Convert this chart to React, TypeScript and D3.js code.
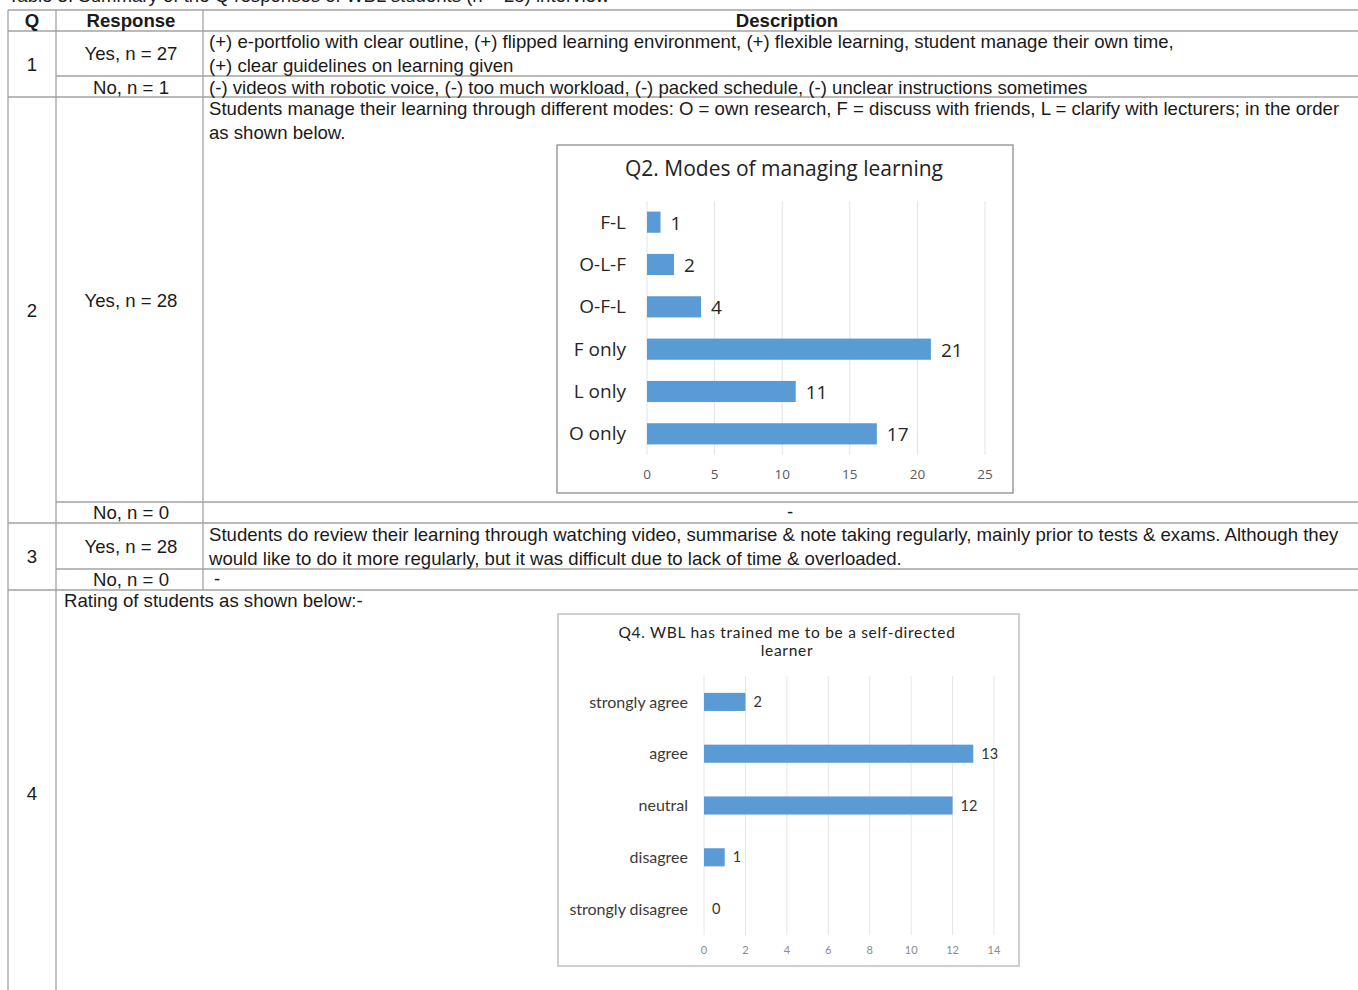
import * as d3 from "d3";
import React from "react";

// Q2 chart data
const q2Categories = ["F-L", "O-L-F", "O-F-L", "F only", "L only", "O only"];
const q2Values = [1, 2, 4, 21, 11, 17];
const q2Ticks = [0, 5, 10, 15, 20, 25];

// Q4 chart data
const q4Categories = ["strongly agree", "agree", "neutral", "disagree", "strongly disagree"];
const q4Values = [2, 13, 12, 1, 0];
const q4Ticks = [0, 2, 4, 6, 8, 10, 12, 14];

// table text
const headers = ["Q", "Response", "Description"];
const q1Yes = [
  "(+) e-portfolio with clear outline, (+) flipped learning environment, (+) flexible learning, student manage their own time,",
  "(+) clear guidelines on learning given",
];
const q1No = "(-) videos with robotic voice, (-) too much workload, (-) packed schedule, (-) unclear instructions sometimes";
const q2Desc = [
  "Students manage their learning through different modes: O = own research, F = discuss with friends, L = clarify with lecturers; in the order",
  "as shown below.",
];
const q3Desc = [
  "Students do review their learning through watching video, summarise & note taking regularly, mainly prior to tests & exams. Although they",
  "would like to do it more regularly, but it was difficult due to lack of time & overloaded.",
];

const App = () => {
  const ref = React.useRef<SVGSVGElement | null>(null);
  const width = 1358;
  const height = 990;
  const lineColor = "#a3a3a3";
  const textColor = "#1a1a1a";
  const font = "'Liberation Sans', Arial, sans-serif";
  const fs = 18.6;
  const barColor = "#5B9BD5";
  const c1Font = "'Open Sans', sans-serif";
  const c2Font = "Lato, sans-serif";

  const draw = (el: SVGSVGElement) => {
    const svg = d3.select(el);
    svg.selectAll("*").remove();
    svg.append("rect").attr("width", width).attr("height", height).attr("fill", "#fff");

    // caption, cut at the top like in the source
    svg
      .append("text")
      .attr("x", 8)
      .attr("y", 2)
      .attr("font-family", font)
      .attr("font-size", fs)
      .attr("fill", textColor)
      .text("Table 3. Summary of the Q responses of WBL students (n = 28) interview");

    // table grid
    const g = svg.append("g").attr("stroke", lineColor).attr("stroke-width", 1.3);
    const hLines: [number, number][] = [
      [10, 8], [31, 8], [76, 56], [97, 8], [502, 56], [523, 8], [569, 56], [590, 8],
    ];
    hLines.forEach(([y, x0]) => {
      g.append("line").attr("x1", x0).attr("x2", width).attr("y1", y).attr("y2", y);
    });
    g.append("line").attr("x1", 8).attr("x2", 8).attr("y1", 10).attr("y2", height);
    g.append("line").attr("x1", 56).attr("x2", 56).attr("y1", 10).attr("y2", height);
    g.append("line").attr("x1", 203).attr("x2", 203).attr("y1", 10).attr("y2", 590);

    const txt = (x: number, y: number, s: string, anchor = "start", bold = false) =>
      svg
        .append("text")
        .attr("x", x)
        .attr("y", y)
        .attr("text-anchor", anchor)
        .attr("font-family", font)
        .attr("font-size", fs)
        .attr("font-weight", bold ? "bold" : "normal")
        .attr("fill", textColor)
        .text(s);

    txt(32, 27, headers[0], "middle", true);
    txt(131, 27, headers[1], "middle", true);
    txt(787, 27, headers[2], "middle", true);

    txt(32, 71, "1", "middle");
    txt(131, 60, "Yes, n = 27", "middle");
    txt(131, 94, "No, n = 1", "middle");
    txt(209, 48, q1Yes[0]);
    txt(209, 72, q1Yes[1]);
    txt(209, 94, q1No);

    txt(32, 317, "2", "middle");
    txt(131, 307, "Yes, n = 28", "middle");
    txt(209, 115, q2Desc[0]);
    txt(209, 139, q2Desc[1]);
    txt(131, 519, "No, n = 0", "middle");
    txt(790, 518, "-", "middle");

    txt(32, 563, "3", "middle");
    txt(131, 553, "Yes, n = 28", "middle");
    txt(209, 541, q3Desc[0]);
    txt(209, 565, q3Desc[1]);
    txt(131, 586, "No, n = 0", "middle");
    txt(214, 585, "-");

    txt(32, 800, "4", "middle");
    txt(64, 607, "Rating of students as shown below:-");

    // ---- Q2 chart ----
    const c1 = svg.append("g");
    c1.append("rect")
      .attr("x", 557).attr("y", 145).attr("width", 456).attr("height", 348)
      .attr("fill", "#fff").attr("stroke", "#8c8c8c").attr("stroke-width", 1.3);
    c1.append("text")
      .attr("x", 784).attr("y", 176).attr("text-anchor", "middle")
      .attr("font-family", c1Font).attr("font-size", 21)
      .attr("fill", "#222").text("Q2. Modes of managing  learning");

    const x1 = d3.scaleLinear().domain([0, 25]).range([647, 985]);
    const y1 = d3.scaleBand<string>().domain(q2Categories).range([201, 455])
      .paddingInner(0.5).paddingOuter(0.25);

    c1.append("g").selectAll("line").data(q2Ticks).join("line")
      .attr("x1", (d) => x1(d)).attr("x2", (d) => x1(d))
      .attr("y1", 201).attr("y2", 455)
      .attr("stroke", "#e3e3e3").attr("stroke-width", 1);
    c1.append("g").selectAll("text").data(q2Ticks).join("text")
      .attr("x", (d) => x1(d)).attr("y", 479).attr("text-anchor", "middle")
      .attr("font-family", c1Font).attr("font-size", 13.5)
      .attr("fill", "#595959").text((d) => d);

    const d1 = q2Categories.map((c, i) => ({ c, v: q2Values[i] }));
    c1.append("g").selectAll("rect").data(d1).join("rect")
      .attr("x", x1(0)).attr("y", (d) => y1(d.c)!)
      .attr("width", (d) => x1(d.v) - x1(0)).attr("height", y1.bandwidth())
      .attr("fill", barColor);
    c1.append("g").selectAll("text").data(d1).join("text")
      .attr("x", 626).attr("y", (d) => y1(d.c)! + y1.bandwidth() / 2)
      .attr("dy", "0.35em").attr("text-anchor", "end")
      .attr("font-family", c1Font).attr("font-size", 19)
      .attr("fill", "#262626").text((d) => d.c);
    c1.append("g").selectAll("text").data(d1).join("text")
      .attr("x", (d) => x1(d.v) + 10).attr("y", (d) => y1(d.c)! + y1.bandwidth() / 2)
      .attr("dy", "0.4em")
      .attr("font-family", c1Font).attr("font-size", 19)
      .attr("fill", "#262626").text((d) => d.v);

    // ---- Q4 chart ----
    const c2 = svg.append("g");
    c2.append("rect")
      .attr("x", 558).attr("y", 614).attr("width", 461).attr("height", 352)
      .attr("fill", "#fff").attr("stroke", "#cfcfcf").attr("stroke-width", 2);
    const t2 = c2.append("text").attr("text-anchor", "middle")
      .attr("font-family", c2Font).attr("font-size", 15.5)
      .attr("letter-spacing", 0.7).attr("fill", "#222");
    t2.append("tspan").attr("x", 787).attr("y", 638).text("Q4. WBL has trained me to be a self-directed");
    t2.append("tspan").attr("x", 787).attr("y", 656).text("learner");

    const x2 = d3.scaleLinear().domain([0, 14]).range([704, 994]);
    const y2 = d3.scaleBand<string>().domain(q4Categories).range([676, 935])
      .paddingInner(0.65).paddingOuter(0.325);

    c2.append("g").selectAll("line").data(q4Ticks).join("line")
      .attr("x1", (d) => x2(d)).attr("x2", (d) => x2(d))
      .attr("y1", 676).attr("y2", 935)
      .attr("stroke", "#e6e6e6").attr("stroke-width", 1);
    c2.append("g").selectAll("text").data(q4Ticks).join("text")
      .attr("x", (d) => x2(d)).attr("y", 954).attr("text-anchor", "middle")
      .attr("font-family", c2Font).attr("font-size", 11)
      .attr("fill", "#8a8a8a").text((d) => d);

    const d2 = q4Categories.map((c, i) => ({ c, v: q4Values[i] }));
    c2.append("g").selectAll("rect").data(d2).join("rect")
      .attr("x", x2(0)).attr("y", (d) => y2(d.c)!)
      .attr("width", (d) => x2(d.v) - x2(0)).attr("height", y2.bandwidth())
      .attr("fill", barColor);
    c2.append("g").selectAll("text").data(d2).join("text")
      .attr("x", 688).attr("y", (d) => y2(d.c)! + y2.bandwidth() / 2)
      .attr("dy", "0.35em").attr("text-anchor", "end")
      .attr("font-family", c2Font).attr("font-size", 16)
      .attr("fill", "#3a3a3a").text((d) => d.c);
    c2.append("g").selectAll("text").data(d2).join("text")
      .attr("x", (d) => x2(d.v) + 8).attr("y", (d) => y2(d.c)! + y2.bandwidth() / 2)
      .attr("dy", "0.35em")
      .attr("font-family", c2Font).attr("font-size", 14.5)
      .attr("fill", "#333").text((d) => d.v);
  };

  React.useEffect(() => {
    if (ref.current) draw(ref.current);
  }, []);

  return (
    <svg
      ref={ref}
      width={width}
      height={height}
      style={{ position: "absolute", left: 0, top: 0, display: "block" }}
    ></svg>
  );
};

export default App;
